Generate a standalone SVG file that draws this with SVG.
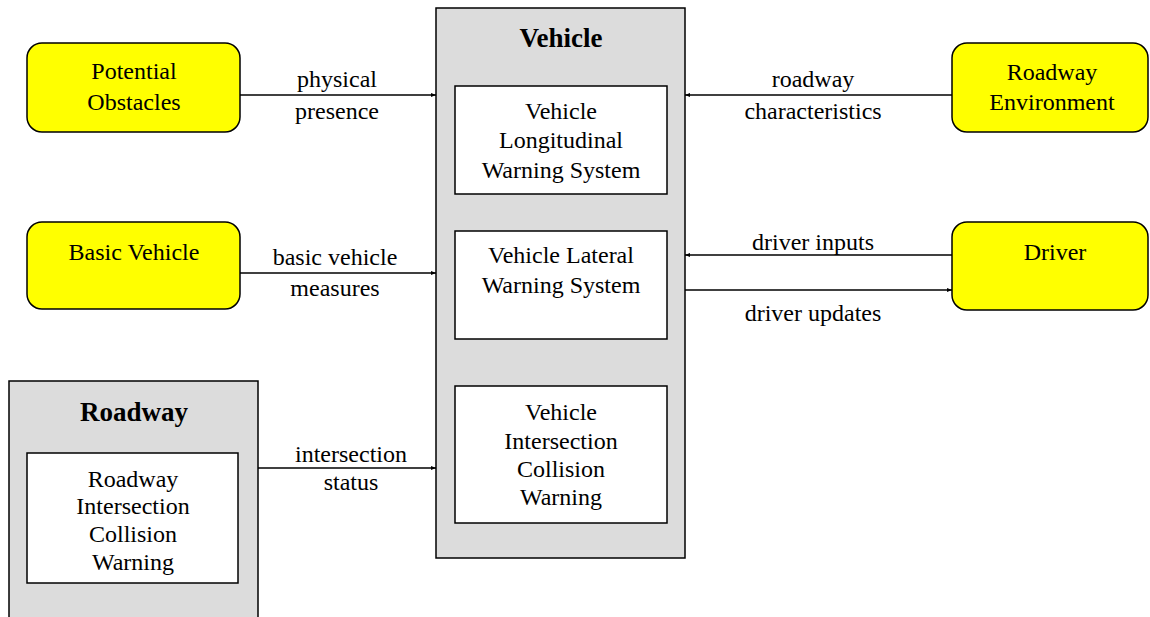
<svg xmlns="http://www.w3.org/2000/svg" width="1150" height="617" viewBox="0 0 1150 617">
<defs>
<style>
.ext{fill:#ffff00;stroke:#000;stroke-width:1.5}
.grp{fill:#dcdcdc;stroke:#000;stroke-width:1.5}
.inner{fill:#fff;stroke:#000;stroke-width:1.5}
text{font-family:"Liberation Serif","Times New Roman",serif;font-size:24px;fill:#000;text-anchor:middle}
.title{font-weight:bold;font-size:27px}
.edge{stroke:#000;stroke-width:1.5;fill:none;marker-end:url(#arr)}
</style>
<marker id="arr" viewBox="0 0 10 10" refX="10" refY="5" markerWidth="5" markerHeight="5" orient="auto" markerUnits="userSpaceOnUse">
<path d="M0,1 L10,5 L0,9 z" fill="#000"/>
</marker>
</defs>
<rect width="1150" height="617" fill="#fff"/>

<g id="vehicle">
<rect class="grp" x="436" y="8" width="249" height="550"/>
<text class="title" x="561" y="47">Vehicle</text>
</g>
<g id="vlws">
<rect class="inner" x="455" y="86" width="212" height="108"/>
<text x="561" y="119">Vehicle</text>
<text x="561" y="148">Longitudinal</text>
<text x="561" y="178">Warning System</text>
</g>
<g id="vlatws">
<rect class="inner" x="455" y="231" width="212" height="108"/>
<text x="561" y="263">Vehicle Lateral</text>
<text x="561" y="293">Warning System</text>
</g>
<g id="vicw">
<rect class="inner" x="455" y="386" width="212" height="137"/>
<text x="561" y="420">Vehicle</text>
<text x="561" y="449">Intersection</text>
<text x="561" y="477">Collision</text>
<text x="561" y="505">Warning</text>
</g>

<g id="roadway">
<rect class="grp" x="9" y="381" width="249" height="250"/>
<text class="title" x="134" y="421">Roadway</text>
</g>
<g id="ricw">
<rect class="inner" x="27" y="453" width="211" height="130"/>
<text x="133" y="487">Roadway</text>
<text x="133" y="514">Intersection</text>
<text x="133" y="542">Collision</text>
<text x="133" y="570">Warning</text>
</g>

<g id="potential-obstacles">
<rect class="ext" x="27" y="43" width="213" height="89" rx="15"/>
<text x="134" y="79">Potential</text>
<text x="134" y="110">Obstacles</text>
</g>
<g id="basic-vehicle">
<rect class="ext" x="27" y="222" width="213" height="87" rx="15"/>
<text x="134" y="260">Basic Vehicle</text>
</g>
<g id="roadway-environment">
<rect class="ext" x="952" y="43" width="196" height="89" rx="15"/>
<text x="1052" y="80">Roadway</text>
<text x="1052" y="110">Environment</text>
</g>
<g id="driver">
<rect class="ext" x="952" y="222" width="196" height="88" rx="15"/>
<text x="1055" y="260">Driver</text>
</g>

<g id="connectors">
<line class="edge" x1="240" y1="95" x2="436" y2="95"/>
<text x="337" y="87">physical</text>
<text x="337" y="119">presence</text>
<line class="edge" x1="240" y1="273" x2="436" y2="273"/>
<text x="335" y="265">basic vehicle</text>
<text x="335" y="296">measures</text>
<line class="edge" x1="258" y1="468" x2="436" y2="468"/>
<text x="351" y="462">intersection</text>
<text x="351" y="490">status</text>
<line class="edge" x1="952" y1="95" x2="685" y2="95"/>
<text x="813" y="87">roadway</text>
<text x="813" y="119">characteristics</text>
<line class="edge" x1="952" y1="255" x2="685" y2="255"/>
<text x="813" y="250">driver inputs</text>
<line class="edge" x1="685" y1="290" x2="952" y2="290"/>
<text x="813" y="321">driver updates</text>
</g>
</svg>
